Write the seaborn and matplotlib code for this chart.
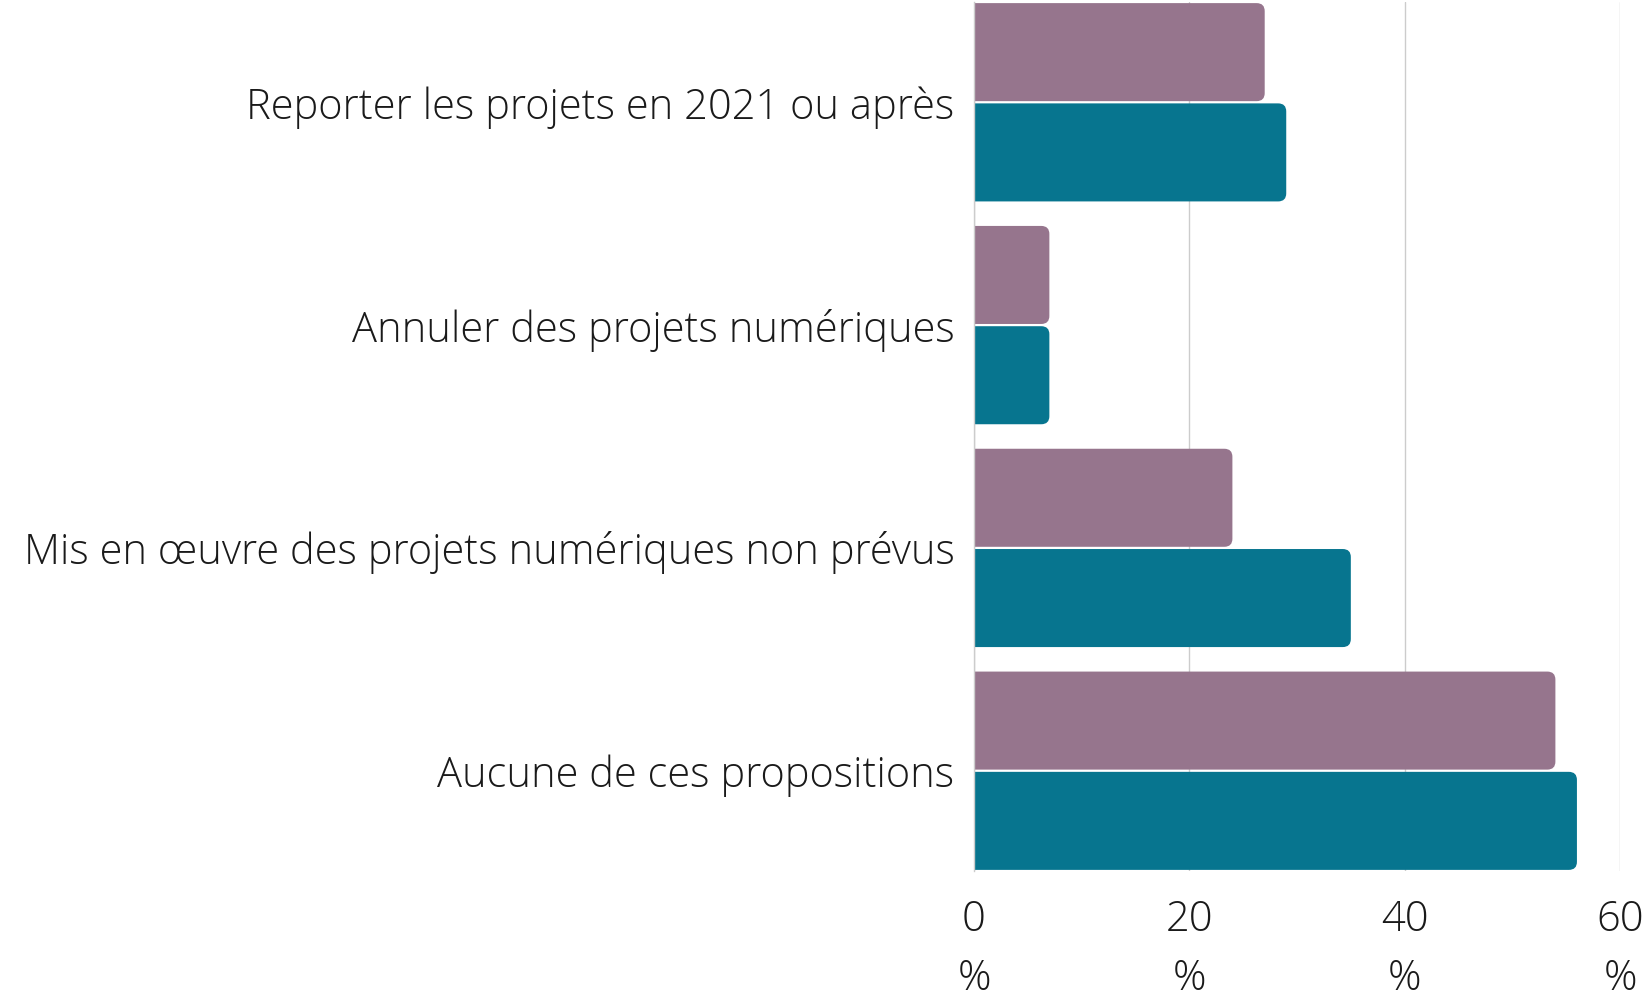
import matplotlib
matplotlib.use("Agg")
import matplotlib.pyplot as plt
import seaborn as sns
import pandas as pd
from matplotlib.patches import FancyBboxPatch

categories = [
    "Reporter les projets en 2021 ou après",
    "Annuler des projets numériques",
    "Mis en œuvre des projets numériques non prévus",
    "Aucune de ces propositions",
]
series_names = ["Série 1", "Série 2"]
values_s1 = [27, 7, 24, 54]
values_s2 = [29, 7, 35, 56]
x_ticks = [0, 20, 40, 60]
x_tick_labels = ["0\n%", "20\n%", "40\n%", "60\n%"]
colors = ["#96758d", "#07758f"]

df = pd.DataFrame({
    "cat": categories * 2,
    "serie": [series_names[0]] * 4 + [series_names[1]] * 4,
    "val": values_s1 + values_s2,
})

sns.set_theme(style="white")
plt.rcParams["font.family"] = ["Open Sans", "DejaVu Sans"]

fig = plt.figure(figsize=(16.44, 9.94), dpi=100)
ax = fig.add_axes([974 / 1644, 1 - 871 / 994, (1620 - 974) / 1644, (871 - 2) / 994])

sns.barplot(data=df, y="cat", x="val", hue="serie", order=categories,
            hue_order=series_names, palette=colors, orient="h",
            width=0.9, gap=0.0, linewidth=0, saturation=1, legend=False,
            ax=ax, zorder=2)

ax.set_xlim(0, 60)
ax.set_ylim(3.45, -0.45)

# replace bars with right-rounded versions
r = 0.75
aspect = 0.048
patches = list(ax.patches)
for p in patches:
    x0, y0 = p.get_x(), p.get_y()
    w, h = p.get_width(), p.get_height()
    fc = p.get_facecolor()
    p.remove()
    pad = 0.005
    fb = FancyBboxPatch((x0 - r * 2, y0 + pad), w + r * 2, h - 2 * pad,
                        boxstyle=f"round,pad=0,rounding_size={r}",
                        mutation_aspect=aspect, facecolor=fc,
                        edgecolor="none", zorder=2, clip_on=True)
    ax.add_patch(fb)

ax.set_xticks(x_ticks)
ax.set_xticklabels(x_tick_labels, linespacing=1.5)
ax.tick_params(axis="x", length=0, pad=20, labelsize=30, colors="#1a1a1a")
ax.tick_params(axis="y", length=0, pad=14, labelsize=30, colors="#1a1a1a")
for lbl in ax.get_xticklabels() + ax.get_yticklabels():
    lbl.set_fontweight("light")

ax.grid(axis="x", color="#cccccc", linewidth=1, zorder=0)
ax.set_axisbelow(True)
for s in ["top", "right", "bottom"]:
    ax.spines[s].set_visible(False)
ax.spines["left"].set_color("#cccccc")
ax.spines["left"].set_linewidth(1)
ax.set_xlabel("")
ax.set_ylabel("")

fig.savefig("out.png", dpi=100)
